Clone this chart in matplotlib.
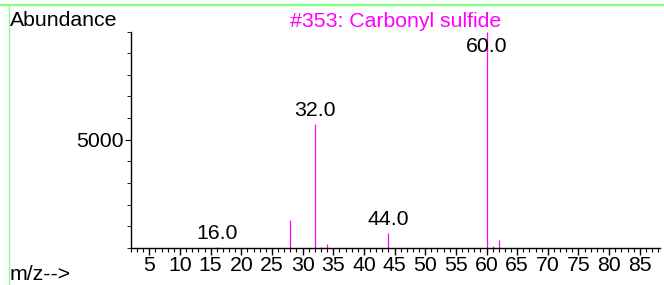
import matplotlib
matplotlib.use("Agg")
import matplotlib.pyplot as plt
from matplotlib.ticker import MultipleLocator

# peaks
mz = [16, 28, 32, 33, 34, 44, 60, 61, 62]
abundance = [20, 1280, 5710, 25, 160, 670, 9999, 90, 340]
labeled = [16, 32, 44, 60]
title = "#353: Carbonyl sulfide"

magenta = "#ff00ff"
fs = 15.3
plt.rcParams["font.family"] = ["Liberation Sans", "DejaVu Sans"]

fig = plt.figure(figsize=(6.64, 2.85), dpi=100)
ax = fig.add_axes([130.7 / 664, 1 - 247.7 / 285, (660 - 130.7) / 664, (247.7 - 31.7) / 285])

ax.vlines(mz, 0, abundance, color=magenta, lw=0.9)
ax.set_xlim(1.96, 88.3)
ax.set_ylim(0, 10000)

ymax = ax.get_ylim()[1]
for m, a in zip(mz, abundance):
    if m in labeled:
        ax.annotate(f"{m:.1f}", xy=(m, min(a, ymax * 0.87)), xytext=(0, 3),
                    textcoords="offset points", ha="center", va="bottom", fontsize=fs)

for s in ["top", "right"]:
    ax.spines[s].set_visible(False)
ax.spines["left"].set_linewidth(1.0)
ax.spines["bottom"].set_linewidth(1.0)

ax.xaxis.set_major_locator(MultipleLocator(5))
ax.xaxis.set_minor_locator(MultipleLocator(1))
ax.yaxis.set_major_locator(MultipleLocator(5000))
ax.yaxis.set_minor_locator(MultipleLocator(1000))
ax.tick_params(axis="x", which="major", length=5, width=1, pad=1, labelsize=fs)
ax.tick_params(axis="x", which="minor", length=3, width=0.8)
ax.tick_params(axis="y", which="major", length=4, width=0.8, pad=1, labelsize=fs)
ax.tick_params(axis="y", which="minor", length=3, width=0.6)
ax.set_yticks([5000])
ax.set_yticklabels(["5000"])

fig.text(396 / 664, 1 - 27 / 285, title, color=magenta, ha="center", va="baseline", fontsize=fs)
fig.text(10 / 664, 1 - 26 / 285, "Abundance", ha="left", va="baseline", fontsize=fs)
fig.text(10 / 664, 1 - 280 / 285, "m/z-->", ha="left", va="baseline", fontsize=fs)

# green frame edges
green = "#80ff80"
fig.add_artist(plt.Line2D([0, 1], [1 - 4.5 / 285] * 2, color=green, lw=1.6, transform=fig.transFigure))
fig.add_artist(plt.Line2D([9.3 / 664] * 2, [0, 1 - 4.5 / 285], color=green, lw=0.9, transform=fig.transFigure))

fig.savefig("out.png", dpi=100)
